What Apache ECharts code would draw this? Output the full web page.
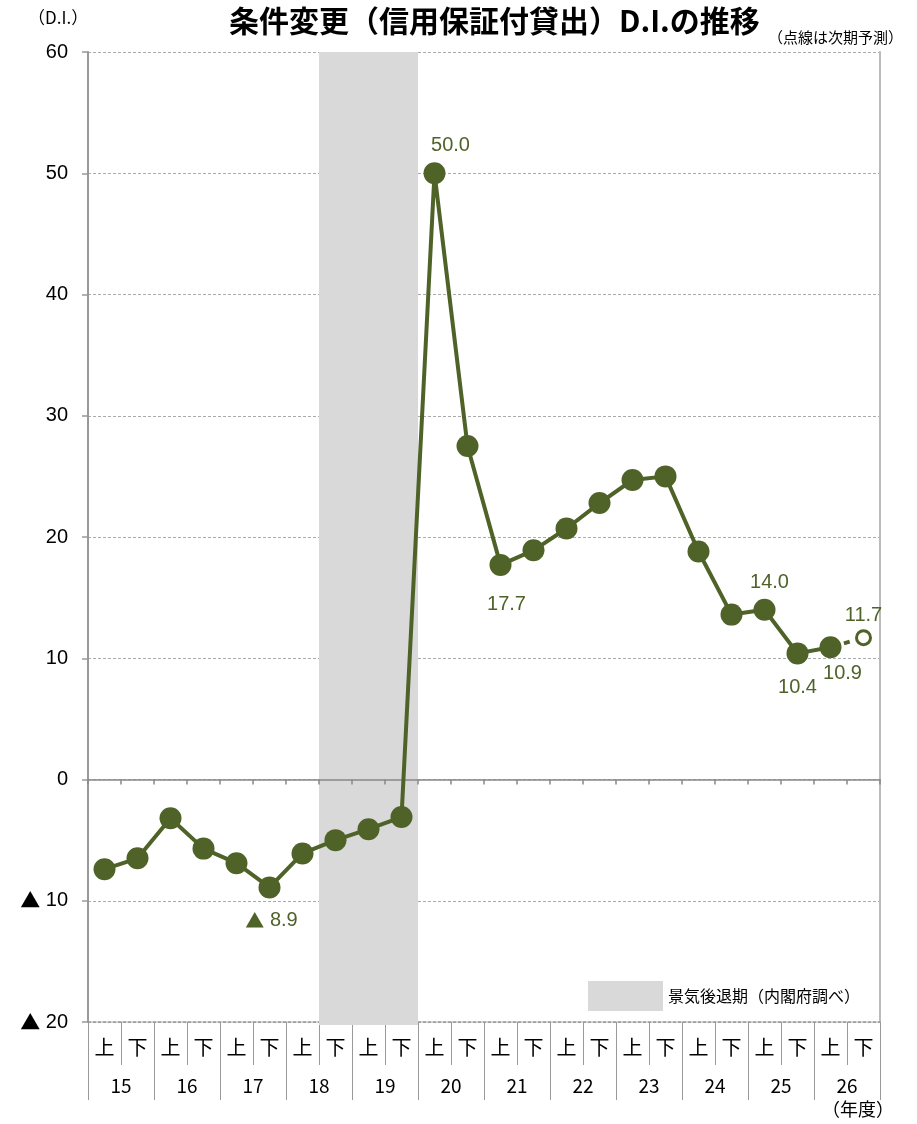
<!DOCTYPE html>
<html><head><meta charset="utf-8">
<script src="https://cdn.jsdelivr.net/npm/echarts@6/dist/echarts.min.js"></script>
<style>html,body{margin:0;padding:0;background:#fff}#c{width:917px;height:1124px}</style>
</head><body><div id="c"></div>
<script>
// ---- data ----
const halves = ['上','下','上','下','上','下','上','下','上','下','上','下','上','下','上','下','上','下','上','下','上','下','上','下'];
const halfKeys = ['15上','15下','16上','16下','17上','17下','18上','18下','19上','19下','20上','20下','21上','21下','22上','22下','23上','23下','24上','24下','25上','25下','26上','26下'];
const years = ['15','16','17','18','19','20','21','22','23','24','25','26'];
const diValues = [-7.4,-6.5,-3.2,-5.7,-6.9,-8.9,-6.1,-5.0,-4.1,-3.1,50.0,27.5,17.7,18.9,20.7,22.8,24.7,25.0,18.8,13.6,14.0,10.4,10.9];
const forecastKeys = ['26上','26下'];
const forecastValues = [10.9, 11.7];
const recession = ['18下','19下'];
const yMin = -20, yMax = 60, yStep = 10;

// ---- style ----
const GREEN = '#4F6228';
const JP = '"Noto Sans CJK JP", sans-serif';
const NUM = '"Liberation Sans", Arial, sans-serif';
const fmt = v => v < 0 ? '{tri|▲} ' + Math.abs(v).toFixed(1) : v.toFixed(1);

const labelCfg = {
  '17下': {position:'bottom', distance:12, offset:[2,0]},
  '20上': {position:'top', distance:7, offset:[16,0]},
  '21上': {position:'bottom', distance:19, offset:[6,0]},
  '25上': {position:'top', distance:6, offset:[5,0]},
  '25下': {position:'bottom', distance:13, offset:[0,0]},
  '26上': {position:'bottom', distance:5, offset:[12,0]}
};
const labelTxt = {fontFamily: NUM, fontSize: 20, color: GREEN,
  rich: {tri: {fontFamily: JP, fontSize: 19, color: GREEN}}};

const mainData = halfKeys.map((k, i) => {
  if (i >= diValues.length) return null;
  const v = diValues[i];
  const item = {value: v};
  if (labelCfg[k]) item.label = Object.assign({show:true, formatter: fmt(v)}, labelTxt, labelCfg[k]);
  return item;
});
const fcData = halfKeys.map(k => {
  const j = forecastKeys.indexOf(k);
  if (j < 0) return null;
  const v = forecastValues[j];
  if (j === 0) return {value: v, symbol: 'none'};
  return {value: v, label: Object.assign({show:true, formatter: fmt(v), position:'top', distance:4}, labelTxt)};
});

const chart = echarts.init(document.getElementById('c'), null, {renderer:'canvas'});
chart.setOption({
  animation: false,
  backgroundColor: '#fff',
  title: [
    {text: '条件変更（信用保証付貸出）D.I.の推移', left: 229, top: 6, padding: 0,
     textStyle: {fontFamily: JP, fontWeight: 'bold', fontSize: 30, color: '#000'}},
    {text: '（点線は次期予測）', left: 768, top: 30, padding: 0,
     textStyle: {fontFamily: JP, fontWeight: 'normal', fontSize: 15, color: '#000'}},
    {text: '（D.I.）', left: 28, top: 9, padding: 0,
     textStyle: {fontFamily: JP, fontWeight: 'normal', fontSize: 17, color: '#000'}},
    {text: '（年度）', left: 822, top: 1100, padding: 0,
     textStyle: {fontFamily: JP, fontWeight: 'normal', fontSize: 18, color: '#000'}}
  ],
  legend: {
    data: ['景気後退期（内閣府調べ）'],
    left: 588, top: 981, padding: 0,
    itemWidth: 75, itemHeight: 30, itemGap: 0, icon: 'rect',
    textStyle: {fontFamily: JP, fontSize: 16, color: '#000', padding: [0,0,0,0]},
    selectedMode: false
  },
  grid: {left: 88, right: 37, top: 52, bottom: 102},
  xAxis: [
    { // half-year row
      type: 'category', data: halves, position: 'bottom', boundaryGap: true,
      axisLine: {show: true, onZero: false, lineStyle: {color: '#999', width: 1.5, type: [3,2]}},
      axisTick: {show: true, interval: 0, length: 43, lineStyle: {color: '#999'}},
      axisLabel: {interval: 0, margin: 15, fontFamily: JP, fontSize: 20, color: '#000'},
      splitLine: {show: false}
    },
    { // year row
      type: 'category', data: years, position: 'bottom', boundaryGap: true,
      axisLine: {show: false, onZero: false},
      axisTick: {show: true, interval: 0, length: 78, lineStyle: {color: '#999'}},
      axisLabel: {interval: 0, margin: 54, fontFamily: JP, fontSize: 19, color: '#000'},
      splitLine: {show: false}
    },
    { // zero line
      type: 'category', data: halfKeys, position: 'bottom', boundaryGap: true, z: 4,
      axisLine: {show: true, onZero: true, lineStyle: {color: '#888', width: 1.5}},
      axisTick: {show: true, interval: 0, length: 5, lineStyle: {color: '#888', width: 1.5}},
      axisLabel: {show: false},
      splitLine: {show: false}
    }
  ],
  yAxis: [
    {
      type: 'value', min: yMin, max: yMax, interval: yStep, position: 'left',
      axisLine: {show: true, onZero: false, lineStyle: {color: '#999', width: 2}},
      axisTick: {show: true, length: 6, lineStyle: {color: '#999', width: 1.5}},
      axisLabel: {margin: 20, fontFamily: NUM, fontSize: 20, color: '#000',
        formatter: v => v < 0 ? '{tri|▲} ' + Math.abs(v) : String(v),
        rich: {tri: {fontFamily: JP, fontSize: 20, color: '#000'}}},
      splitLine: {show: true, lineStyle: {color: '#aaa', width: 1, type: [3,2]}}
    },
    {
      type: 'value', min: yMin, max: yMax, interval: yStep, position: 'right',
      axisLine: {show: true, onZero: false, lineStyle: {color: '#bbb', width: 2}},
      axisTick: {show: false}, axisLabel: {show: false}, splitLine: {show: false}
    }
  ],
  series: [
    {
      type: 'custom', name: '景気後退期（内閣府調べ）', xAxisIndex: 2, yAxisIndex: 0, z: 1, silent: true,
      itemStyle: {color: '#D9D9D9'},
      data: [[halfKeys.indexOf(recession[0]), halfKeys.indexOf(recession[1])]],
      encode: {x: [0, 1]},
      renderItem: (params, api) => {
        const s = api.coord([api.value(0), yMax]);
        const e = api.coord([api.value(1), yMin]);
        const bw = api.size([1, 0])[0];
        return {type: 'rect', shape: {x: s[0] - bw/2, y: s[1], width: e[0] - s[0] + bw, height: e[1] - s[1] + 3},
                style: {fill: '#D9D9D9'}};
      }
    },
    {
      type: 'line', name: 'DI', xAxisIndex: 2, yAxisIndex: 0, z: 5,
      data: mainData, connectNulls: false,
      symbol: 'circle', symbolSize: 22, showAllSymbol: true,
      lineStyle: {color: GREEN, width: 4},
      itemStyle: {color: GREEN, borderWidth: 0}
    },
    {
      type: 'line', name: '予測', xAxisIndex: 2, yAxisIndex: 0, z: 5,
      data: fcData,
      symbol: 'circle', symbolSize: 14, showAllSymbol: true,
      lineStyle: {color: GREEN, width: 4, type: [6, 8]},
      itemStyle: {color: '#fff', borderColor: GREEN, borderWidth: 3}
    }
  ]
});
</script>
</body></html>
